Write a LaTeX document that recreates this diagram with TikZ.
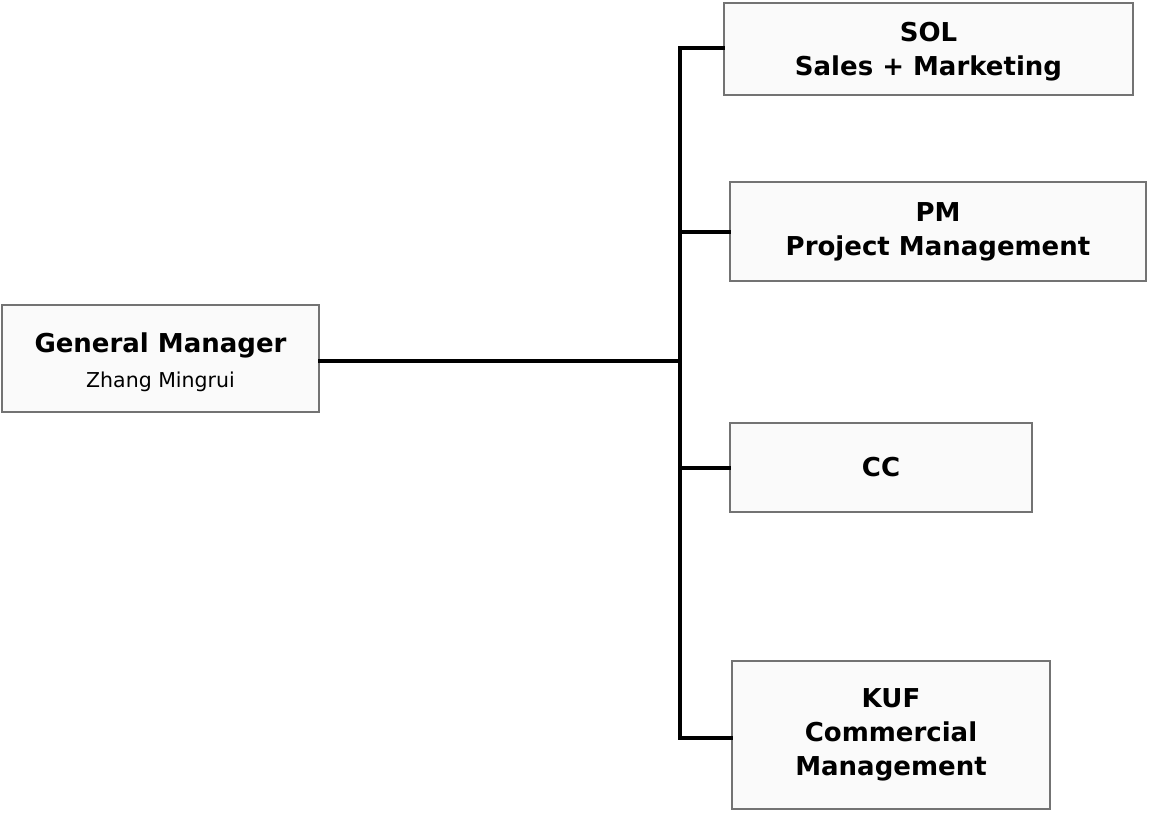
\documentclass[tikz,border=0pt]{standalone}
\usepackage{fontspec}
\setmainfont{DejaVu Sans}
\begin{document}
\begin{tikzpicture}[x=1pt,y=-1pt,
  box/.style={draw=black!55, line width=1.8pt, fill=black!2, inner sep=0pt},
  boxtext/.style={inner sep=0pt, align=center, font=\bfseries\fontsize{26}{34}\selectfont},
  conn/.style={line width=3.6pt, line cap=rect}]
\useasboundingbox (0,0) rectangle (1160,813);
\node[box, minimum width=317pt, minimum height=107pt] (gm) at (160.5,358.5) {};
\node[boxtext, yshift=-4pt] (gmt) at (gm) {General Manager\\[1pt]{\mdseries\fontsize{20.5}{24}\selectfont Zhang Mingrui}};
\node[box, minimum width=409pt, minimum height=92pt] (sol) at (928.5,49) {};
\node[boxtext, yshift=-3pt] (solt) at (sol) {SOL\\Sales + Marketing};
\node[box, minimum width=416pt, minimum height=99pt] (pm) at (938,231.5) {};
\node[boxtext] (pmt) at (pm) {PM\\Project Management};
\node[box, minimum width=302pt, minimum height=89pt] (cc) at (881,467.5) {};
\node[boxtext] (cct) at (cc) {CC};
\node[box, minimum width=318pt, minimum height=148pt] (kuf) at (891,735) {};
\node[boxtext] (kuft) at (kuf) {KUF\\Commercial\\Management};
\coordinate (t1) at (680,48);
\coordinate (t2) at (680,232);
\coordinate (t0) at (680,361);
\coordinate (t3) at (680,468);
\coordinate (t4) at (680,738);
\draw[conn] (gm.east |- t0) -- (t0);
\draw[conn] (t1) -- (t4);
\draw[conn] (t1) -- (sol.west |- t1);
\draw[conn] (t2) -- (pm.west |- t2);
\draw[conn] (t3) -- (cc.west |- t3);
\draw[conn] (t4) -- (kuf.west |- t4);
\end{tikzpicture}
\end{document}
